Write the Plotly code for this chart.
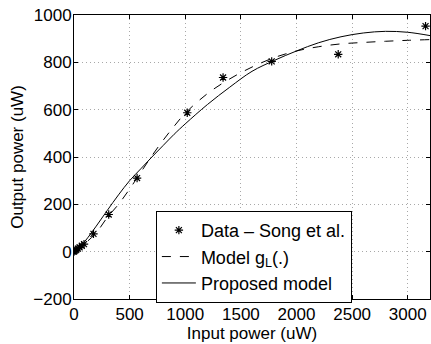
import plotly.graph_objects as go

# Measured data (Song et al.)
data_x = [0, 10, 20, 35, 50, 70, 90, 175, 312, 567, 1018, 1340, 1777, 2375, 3160]
data_y = [0, 4, 8, 13, 18, 25, 32, 75, 157, 311, 587, 736, 804, 834, 953]

# Curves
curve_x = [0, 50, 100, 200, 300, 400, 500, 600, 700, 800, 900, 1000, 1200, 1400,
           1600, 1800, 2000, 2200, 2400, 2600, 2800, 3000, 3200]
model_gl_y = [0, 15, 35, 80, 145, 200, 265, 335, 405, 470, 530, 585, 668, 730,
              780, 820, 848, 866, 878, 884, 889, 893, 896]
proposed_y = [0, 20, 45, 108, 175, 240, 300, 350, 400, 448, 496, 540, 622, 695,
              762, 808, 848, 883, 908, 924, 931, 927, 913]

x_ticks = [0, 500, 1000, 1500, 2000, 2500, 3000]
y_ticks = [-200, 0, 200, 400, 600, 800, 1000]

FONT = "Liberation Sans, Arial, Helvetica, sans-serif"

fig = go.Figure()
fig.add_trace(go.Scatter(
    x=data_x, y=data_y, mode="markers", name="Data \u2013 Song et al.",
    legendgroup="a",
    marker=dict(symbol="asterisk-open", size=7, color="black",
                line=dict(color="black", width=1.2)),
))
fig.add_trace(go.Scatter(
    x=curve_x, y=model_gl_y, mode="lines", name="Model g<sub>L</sub>(.)",
    legendgroup="b",
    line=dict(color="black", width=1, dash="dash", shape="spline"),
))
fig.add_trace(go.Scatter(
    x=curve_x, y=proposed_y, mode="lines", name="Proposed model",
    legendgroup="c",
    line=dict(color="black", width=1, shape="spline"),
))

axis_common = dict(
    showline=True, linecolor="black", linewidth=1, mirror="ticks",
    ticks="inside", ticklen=4, tickcolor="black",
    showgrid=True, gridcolor="#a8a8a8", griddash="1px,3px", gridwidth=1,
    zeroline=False, tickfont=dict(size=17, color="black", family=FONT),
)

fig.update_layout(
    width=431, height=344,
    margin=dict(l=74, r=1, t=15, b=45, autoexpand=False),
    paper_bgcolor="white", plot_bgcolor="white",
    font=dict(family=FONT, color="black"),
    showlegend=True,
    legend=dict(
        x=0.23, y=0.31, xanchor="left", yanchor="top",
        bgcolor="white", bordercolor="black", borderwidth=1,
        font=dict(size=18, family=FONT, color="black"),
        traceorder="grouped", tracegroupgap=0, itemwidth=34,
    ),
    xaxis=dict(range=[0, 3200], tickvals=x_ticks,
               title=dict(text="Input power (uW)", font=dict(size=17), standoff=2),
               **axis_common),
    yaxis=dict(range=[-200, 1000], tickvals=y_ticks, ticklabelstandoff=-2,
               title=dict(text="Output power (uW)", font=dict(size=17), standoff=5),
               **axis_common),
)

fig.write_html(
    "out.html",
    config={"displayModeBar": False},
    post_script="document.body.style.margin='0';document.body.style.overflow='hidden';",
)
